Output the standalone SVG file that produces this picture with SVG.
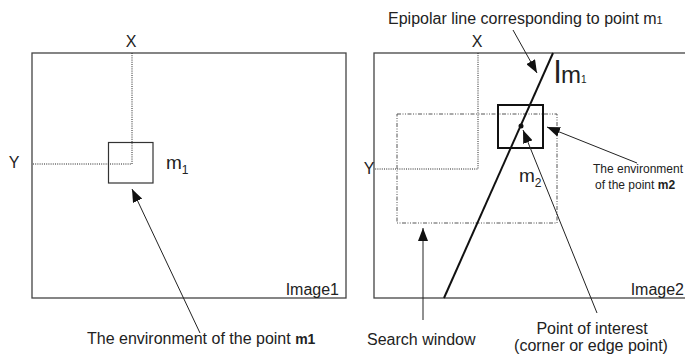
<svg xmlns="http://www.w3.org/2000/svg" width="685" height="357" viewBox="0 0 685 357">
<defs>
<marker id="ah" viewBox="0 0 13 10" refX="13" refY="5" markerWidth="13" markerHeight="10" markerUnits="userSpaceOnUse" orient="auto">
<path d="M0,0 L13,5 L0,10 Z" fill="#111"/>
</marker>
<style>
text{font-family:"Liberation Sans",Arial,sans-serif;fill:#222}
.frame{fill:none;stroke:#444;stroke-width:1.3}
.dot{fill:none;stroke:#222;stroke-width:1;stroke-dasharray:1 1.2}
.dd{fill:none;stroke:#555;stroke-width:1;stroke-dasharray:4 1.5 1 1.5 1 1.5}
.arr{fill:none;stroke:#222;stroke-width:1;marker-end:url(#ah)}
.t16{font-size:16px}
</style>
</defs>
<rect width="685" height="357" fill="#fff"/>
<g id="image1">
<rect class="frame" x="32" y="53" width="314" height="245"/>
<text x="339" y="295" class="t16" text-anchor="end">Image1</text>
<text x="131" y="47" class="t16" text-anchor="middle">X</text>
<text x="14" y="168" class="t16" text-anchor="middle">Y</text>
<path class="dot" d="M132,53 V164 H33"/>
</g>
<g id="box-m1">
<rect x="108.5" y="142.5" width="44.5" height="40.5" fill="none" stroke="#333" stroke-width="1.2"/>
<text x="166" y="169" font-size="19">m<tspan font-size="12" dy="5">1</tspan></text>
</g>
<g id="image2">
<rect class="frame" x="374" y="53" width="314" height="245"/>
<text x="684" y="295" class="t16" text-anchor="end">Image2</text>
<text x="477" y="47" class="t16" text-anchor="middle">X</text>
<text x="369" y="174" class="t16" text-anchor="middle">Y</text>
<path class="dot" d="M478,53 V169 H375"/>
</g>
<g id="search-window">
<rect class="dd" x="397" y="114" width="160" height="109"/>
</g>
<g id="epipolar-line">
<line x1="553" y1="53" x2="444" y2="298" stroke="#111" stroke-width="2"/>
<text x="554" y="83" font-size="32">l<tspan font-size="24">m</tspan><tspan font-size="10">1</tspan></text>
</g>
<g id="box-m2">
<rect x="498" y="105" width="45" height="43" fill="none" stroke="#111" stroke-width="2"/>
<circle cx="521" cy="126" r="2.5" fill="#111"/>
<text x="519" y="182" font-size="19">m<tspan font-size="12" dy="5">2</tspan></text>
</g>
<g id="connectors">
<line class="arr" x1="200" y1="333" x2="132" y2="189"/>
<line class="arr" x1="513" y1="30" x2="537" y2="73"/>
<line class="arr" x1="637" y1="163" x2="547" y2="127"/>
<line class="arr" x1="597" y1="313" x2="523" y2="130"/>
<line class="arr" x1="423" y1="320" x2="423" y2="228"/>
</g>
<g id="labels">
<text x="87" y="344" class="t16">The environment of the point <tspan font-weight="bold" font-size="14">m1</tspan></text>
<text x="388" y="24" class="t16">Epipolar line corresponding to point m<tspan font-size="11">1</tspan></text>
<text x="593" y="173" font-size="12">The environment</text>
<text x="595" y="189" font-size="12">of the point <tspan font-weight="bold">m2</tspan></text>
<text x="367" y="345" class="t16">Search window</text>
<text x="592" y="334" class="t16" text-anchor="middle">Point of interest</text>
<text x="591" y="351" class="t16" text-anchor="middle">(corner or edge point)</text>
</g>
</svg>
